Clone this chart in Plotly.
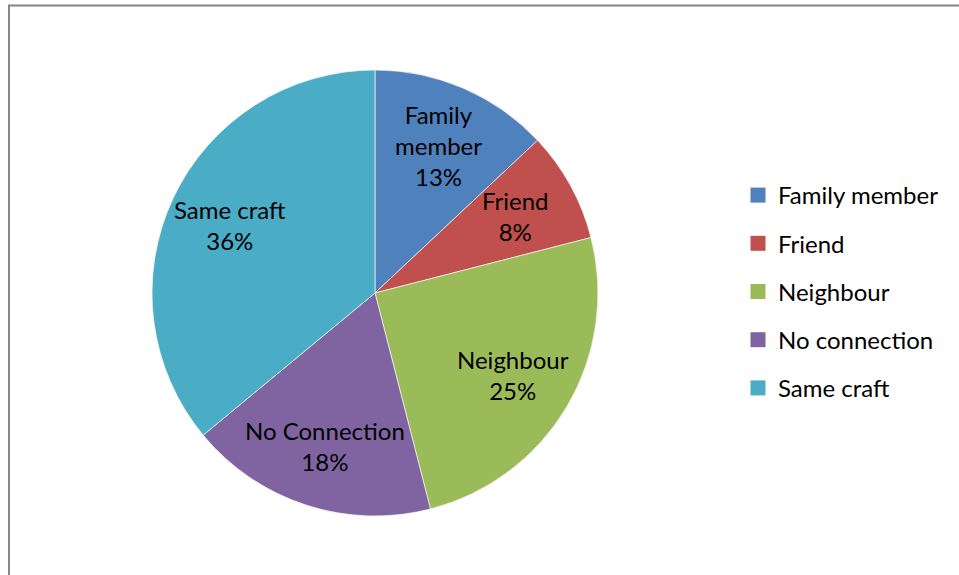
import math
import plotly.graph_objects as go

# Share of respondents by type of connection
categories = ["Family member", "Friend", "Neighbour", "No connection", "Same craft"]
slice_labels = ["Family<br>member", "Friend", "Neighbour", "No Connection", "Same craft"]
shares = [13, 8, 25, 18, 36]
colors = ["#4F81BD", "#C0504D", "#9BBB59", "#8064A2", "#4BACC6"]

W, H = 959, 575
FONT = "Lato"
FONT_SIZE = 24

# Pie geometry in pixels
cx, cy, r = 375, 293, 223

fig = go.Figure()
fig.add_trace(go.Pie(
    labels=categories,
    values=shares,
    marker=dict(colors=colors, line=dict(color="rgba(255,255,255,0.8)", width=0.8)),
    sort=False,
    direction="clockwise",
    rotation=0,
    textinfo="none",
    hoverinfo="label+percent",
    showlegend=False,
    domain=dict(x=[(cx - r) / W, (cx + r) / W], y=[1 - (cy + r) / H, 1 - (cy - r) / H]),
))

# Legend entries as square-marker traces, one group each for spacing
for name, col in zip(categories, colors):
    fig.add_trace(go.Scatter(
        x=[None], y=[None], mode="markers", name=name, legendgroup=name,
        marker=dict(symbol="square", size=15, color=col),
        hoverinfo="skip",
    ))

# Slice labels placed at the mid-angle of each slice
total = sum(shares)
cum = 0
annotations = []
for lab, v in zip(slice_labels, shares):
    mid = (cum + v / 2) / total * 2 * math.pi
    cum += v
    rr = 0.72 * r
    px = cx + rr * math.sin(mid)
    py = cy - rr * math.cos(mid)
    annotations.append(dict(
        x=px / W, y=1 - py / H, xref="paper", yref="paper",
        text=f"{lab}<br>{round(v / total * 100)}%", showarrow=False,
        font=dict(family=FONT, size=FONT_SIZE, color="black"),
        align="center", xanchor="center", yanchor="middle",
    ))

fig.update_layout(
    width=W, height=H,
    margin=dict(l=0, r=0, t=0, b=0),
    paper_bgcolor="white", plot_bgcolor="white",
    xaxis=dict(visible=False, domain=[0.99, 1]),
    yaxis=dict(visible=False, domain=[0.99, 1]),
    annotations=annotations,
    legend=dict(
        x=738 / W, y=1 - 173 / H, xanchor="left", yanchor="top",
        font=dict(family=FONT, size=FONT_SIZE, color="black"),
        tracegroupgap=14, itemwidth=30, bgcolor="rgba(0,0,0,0)",
    ),
    showlegend=True,
    shapes=[dict(
        type="rect", xref="paper", yref="paper",
        x0=9 / W, x1=1.02, y0=-0.02, y1=1 - 5.5 / H,
        line=dict(color="#868686", width=2), fillcolor="rgba(0,0,0,0)",
        layer="below",
    )],
)

fig.write_html("out.html")
